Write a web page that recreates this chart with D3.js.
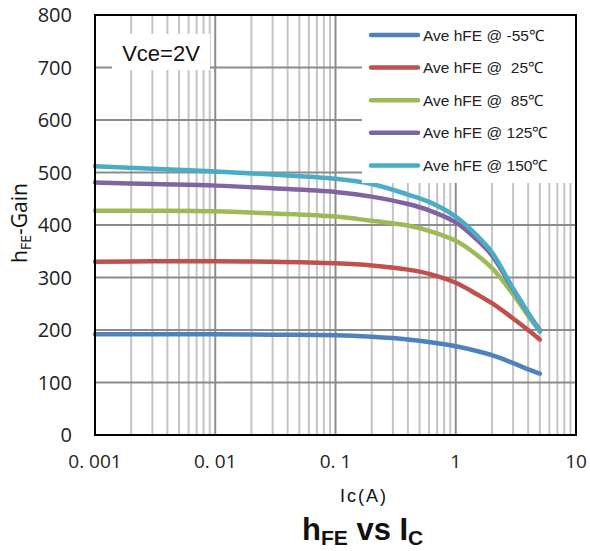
<!DOCTYPE html>
<html><head><meta charset="utf-8">
<script src="https://cdn.jsdelivr.net/npm/d3@7"></script>
<style>body{margin:0;background:#fff}svg{display:block}</style>
</head><body>
<svg id="c" width="590" height="551"></svg>
<script>
const current = [0.001, 0.003, 0.01, 0.03, 0.1, 0.2, 0.4, 0.6, 1, 1.5, 2, 3, 4, 5];
const seriesNames = ["Ave hFE @ -55\u2103", "Ave hFE @  25\u2103", "Ave hFE @  85\u2103", "Ave hFE @ 125\u2103", "Ave hFE @ 150\u2103"];
const seriesColors = ["#4F81BD", "#C0504D", "#9BBB59", "#8064A2", "#4BACC6"];
const hfeM55 = [192, 192, 192, 191, 190, 187, 182, 177, 169, 160, 152, 137, 125, 117];
const hfe25  = [330, 331, 331, 330, 327, 323, 315, 307, 290, 268, 251, 222, 200, 182];
const hfe85  = [427, 427, 426, 422, 416, 408, 399, 389, 370, 343, 318, 268, 227, 198];
const hfe125 = [481, 478, 475, 470, 463, 454, 440, 428, 405, 372, 342, 277, 232, 200];
const hfe150 = [512, 507, 502, 496, 488, 478, 458, 444, 416, 380, 348, 279, 233, 197];
const seriesValues = [hfeM55, hfe25, hfe85, hfe125, hfe150];
const xTicks = [0.001, 0.01, 0.1, 1, 10];
const xTickLabels = ["0. 001", "0. 01", "0. 1", "1", "10"];
const yTicks = [0, 100, 200, 300, 400, 500, 600, 700, 800];

const svg = d3.select("#c");
const L = 95, R = 576, T = 15, B = 435;
const x = d3.scaleLog().domain([0.001, 10]).range([L, R]);
const y = d3.scaleLinear().domain([0, 800]).range([B, T]);

// minor vertical grid
const minor = [];
for (let d = 0.001; d < 10; d *= 10) for (let k = 2; k <= 9; k++) minor.push(d * k);
svg.append("g").selectAll("line").data(minor).join("line")
  .attr("x1", d => x(d)).attr("x2", d => x(d)).attr("y1", T).attr("y2", B)
  .attr("stroke", "#c4c4c4").attr("stroke-width", 2);
// major horizontal grid
svg.append("g").selectAll("line").data(yTicks).join("line")
  .attr("x1", L).attr("x2", R).attr("y1", d => y(d)).attr("y2", d => y(d))
  .attr("stroke", "#8c8c8c").attr("stroke-width", 2);
// major vertical grid
svg.append("g").selectAll("line").data(xTicks).join("line")
  .attr("x1", d => x(d)).attr("x2", d => x(d)).attr("y1", T).attr("y2", B)
  .attr("stroke", "#8c8c8c").attr("stroke-width", 2);

// Vce box
svg.append("rect").attr("x", 112).attr("y", 34).attr("width", 98).attr("height", 36).attr("fill", "#fff");
svg.append("text").attr("x", 161).attr("y", 61).attr("text-anchor", "middle")
  .attr("font-family", "Liberation Sans, Arial, sans-serif").attr("font-size", 22).attr("fill", "#111").text("Vce=2V");

// curves
const line = d3.line().x((d, i) => x(current[i])).y(d => y(d)).curve(d3.curveCatmullRom.alpha(0.5));
svg.append("g").selectAll("path").data(seriesValues).join("path")
  .attr("d", d => line(d)).attr("fill", "none")
  .attr("stroke", (d, i) => seriesColors[i]).attr("stroke-width", 4.5)
  .attr("stroke-linecap", "round").attr("stroke-linejoin", "round");

// legend
svg.append("rect").attr("x", 362).attr("y", 16).attr("width", 213).attr("height", 167).attr("fill", "#fff");
const lg = svg.append("g").selectAll("g").data(seriesNames).join("g")
  .attr("transform", (d, i) => `translate(0,${35 + i * 32.6})`);
lg.append("line").attr("x1", 371).attr("x2", 418).attr("y1", 0).attr("y2", 0)
  .attr("stroke", (d, i) => seriesColors[i]).attr("stroke-width", 4.5).attr("stroke-linecap", "round");
lg.append("text").attr("x", 423).attr("y", 5.5).attr("font-family", "Liberation Sans, Arial, sans-serif")
  .attr("font-size", 15.5).attr("fill", "#222").attr("xml:space", "preserve").style("white-space", "pre").text(d => d);

// border
svg.append("rect").attr("x", L).attr("y", T).attr("width", R - L).attr("height", B - T)
  .attr("fill", "none").attr("stroke", "#000").attr("stroke-width", 2);

// y tick labels
svg.append("g").selectAll("text").data(yTicks).join("text")
  .attr("x", 72).attr("y", d => y(d) + 7).attr("text-anchor", "end")
  .attr("font-family", "Open Sans, DejaVu Sans, sans-serif").attr("font-size", 20).attr("fill", "#222").text(d => d);
// x tick labels
svg.append("g").selectAll("text").data(xTicks).join("text")
  .attr("x", d => x(d)).attr("y", 468).attr("text-anchor", "middle")
  .attr("font-family", "Open Sans, DejaVu Sans, sans-serif").attr("font-size", 19).attr("fill", "#222")
  .attr("xml:space", "preserve").style("white-space", "pre").text((d, i) => xTickLabels[i]);

// axis titles
svg.append("text").attr("x", 364).attr("y", 502).attr("text-anchor", "middle")
  .attr("font-family", "Liberation Sans, Arial, sans-serif").attr("font-size", 18).attr("letter-spacing", 2).attr("fill", "#111").text("Ic(A)");
const yt = svg.append("text").attr("transform", "translate(27,223) rotate(-90)").attr("text-anchor", "middle")
  .attr("font-family", "Open Sans, DejaVu Sans, sans-serif").attr("font-size", 21).attr("fill", "#111");
yt.append("tspan").text("h");
yt.append("tspan").attr("font-size", 14).attr("dy", 4).text("FE");
yt.append("tspan").attr("dy", -4).text("-Gain");

// title
const tt = svg.append("text").attr("x", 302).attr("y", 540)
  .attr("font-family", "Liberation Sans, Arial, sans-serif").attr("font-weight", "bold").attr("font-size", 31).attr("fill", "#111");
tt.append("tspan").text("h");
tt.append("tspan").attr("font-size", 21).attr("dy", 5).text("FE");
tt.append("tspan").attr("dy", -5).text(" vs I");
tt.append("tspan").attr("font-size", 21).attr("dy", 5).text("C");
</script>
</body></html>
